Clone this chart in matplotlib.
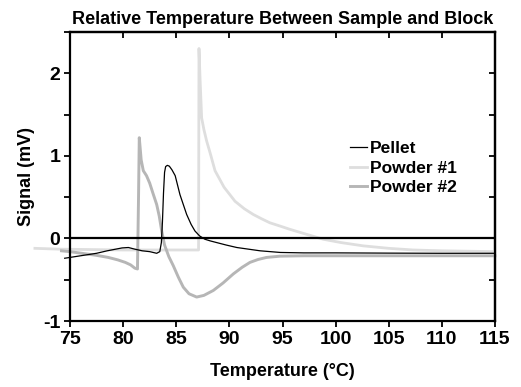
import matplotlib
matplotlib.use("Agg")
import matplotlib.pyplot as plt
from matplotlib.ticker import MultipleLocator

plt.rcParams['font.family'] = ['Liberation Sans', 'DejaVu Sans']
plt.rcParams['font.weight'] = 'bold'

# ---- data ----
pellet_x = [74.5, 75.5, 76.5, 77.5, 78.5, 79.3, 79.9, 80.5, 81.1, 81.8, 82.5, 83.16,
            83.45, 83.6, 83.7, 83.8, 83.9, 84.0, 84.16, 84.35, 84.6, 84.9, 85.35,
            85.98, 86.4, 86.76, 87.2, 87.7, 88.2, 88.8, 89.7, 90.7, 91.8, 92.9,
            94.8, 97, 100, 105, 110, 115]
pellet_y = [-0.24, -0.22, -0.20, -0.18, -0.15, -0.13, -0.115, -0.11, -0.13, -0.15, -0.16, -0.18,
            -0.16, -0.05, 0.2, 0.55, 0.8, 0.87, 0.885, 0.875, 0.83, 0.76, 0.53,
            0.29, 0.17, 0.09, 0.03, -0.01, -0.03, -0.05, -0.08, -0.11, -0.13, -0.15,
            -0.17, -0.175, -0.175, -0.178, -0.18, -0.18]

powder1_x = [71.7, 74, 77, 80, 83, 86.9, 87.1, 87.14, 87.25, 87.39, 87.6, 87.86, 88.2,
             88.65, 89.5, 90.53, 91.4, 92.25, 93.0, 93.8, 94.76, 95.7, 97, 98.84,
             100.5, 102.6, 105, 107.3, 110, 112.5, 115]
powder1_y = [-0.12, -0.13, -0.135, -0.14, -0.14, -0.14, -0.14, 2.30, 1.9, 1.46, 1.32, 1.18, 1.03,
             0.82, 0.62, 0.45, 0.36, 0.29, 0.24, 0.19, 0.15, 0.11, 0.06, -0.01,
             -0.05, -0.09, -0.12, -0.14, -0.15, -0.155, -0.16]

powder2_x = [74.2, 75, 76.1, 77.5, 78.6, 79.5, 80.2, 80.7, 81.1, 81.35, 81.45, 81.52,
             81.7, 81.9, 82.2, 82.5, 82.8, 83.16, 83.4, 83.63, 83.9, 84.3, 84.72,
             85.2, 85.66, 86.2, 86.92, 87.6, 88.49, 89.4, 90.37, 91.2, 91.94, 92.7,
             93.5, 94.76, 97, 100, 105, 110, 115]
powder2_y = [-0.15, -0.16, -0.18, -0.205, -0.23, -0.26, -0.29, -0.32, -0.36, -0.37, 0.5, 1.22,
             0.95, 0.82, 0.76, 0.67, 0.55, 0.41, 0.27, 0.09, -0.08, -0.22, -0.33,
             -0.47, -0.59, -0.67, -0.71, -0.69, -0.63, -0.54, -0.43, -0.35, -0.29, -0.255,
             -0.23, -0.215, -0.21, -0.21, -0.21, -0.21, -0.21]

series_labels = ["Pellet", "Powder #1", "Powder #2"]
x_ticks = [75, 80, 85, 90, 95, 100, 105, 110, 115]
y_ticks = [-1, 0, 1, 2]

# ---- figure ----
fig = plt.figure(figsize=(5.21, 3.87), dpi=100)
ax = fig.add_axes([70/521, 1-321/387, 425/521, 289/387])

ax.plot(pellet_x, pellet_y, color='black', lw=0.9, label=series_labels[0], clip_on=False, zorder=3)
ax.plot(powder1_x, powder1_y, color='#dedede', lw=2.0, label=series_labels[1], clip_on=False, zorder=2)
ax.plot(powder2_x, powder2_y, color='#b6b6b6', lw=2.1, label=series_labels[2], clip_on=False, zorder=2)
ax.axhline(0, color='black', lw=1.6, zorder=4)

ax.set_xlim(75, 115)
ax.set_ylim(-1, 2.5)
ax.set_xticks(x_ticks)
ax.set_yticks(y_ticks)
ax.yaxis.set_minor_locator(MultipleLocator(0.5))

for s in ax.spines.values():
    s.set_linewidth(1.6)

ax.tick_params(axis='both', which='both', width=1.3, length=4)
ax.tick_params(axis='x', which='both', direction='out', top=False, labelsize=14, pad=3)
ax.tick_params(axis='y', which='both', direction='out', right=False, labelsize=14, pad=3)
# inward ticks on top and right
ax2 = ax.secondary_xaxis('top')
ax2.set_xticks(x_ticks)
ax2.tick_params(direction='in', length=4, width=1.3, labeltop=False)
ax3 = ax.secondary_yaxis('right')
ax3.set_yticks(y_ticks)
ax3.yaxis.set_minor_locator(MultipleLocator(0.5))
ax3.tick_params(which='both', direction='in', length=4, width=1.3, labelright=False)
for a in (ax2, ax3):
    for s in a.spines.values():
        s.set_linewidth(1.6)
for lab in ax.get_xticklabels() + ax.get_yticklabels():
    lab.set_fontweight('bold')
ax.set_yticklabels([str(v) for v in y_ticks])

ax.set_xlabel("Temperature (°C)", fontsize=13, fontweight='bold', labelpad=11)
ax.set_ylabel("Signal (mV)", fontsize=13, fontweight='bold', labelpad=6)
ax.set_title("Relative Temperature Between Sample and Block", fontsize=13, fontweight='bold', pad=6)

leg = ax.legend(loc='upper left', bbox_to_anchor=(350/521, 1-141/387), bbox_transform=fig.transFigure,
                frameon=False, handlelength=1.0, handletextpad=0.15,
                labelspacing=0.25, borderpad=0, borderaxespad=0, prop={'weight': 'bold', 'size': 12.5})

fig.savefig("out.png", dpi=100)
